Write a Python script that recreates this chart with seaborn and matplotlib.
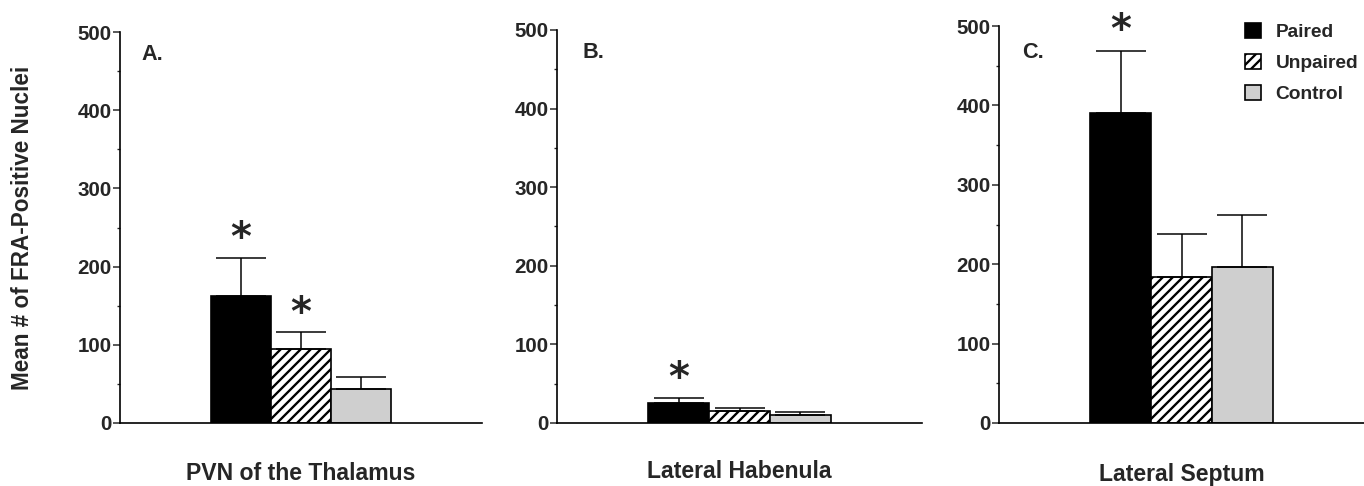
import numpy as np
import pandas as pd
import matplotlib
matplotlib.use("Agg")
import matplotlib.pyplot as plt
from matplotlib.ticker import MultipleLocator
import seaborn as sns

# ---- data ----
regions = ["PVN of the Thalamus", "Lateral Habenula", "Lateral Septum"]
panel_letters = ["A.", "B.", "C."]
groups = ["Paired", "Unpaired", "Control"]
paired_mean = [163, 26, 390]
unpaired_mean = [95, 15, 184]
control_mean = [44, 10, 196]
paired_sem = [48, 6, 79]
unpaired_sem = [21, 4, 54]
control_sem = [15, 3.5, 66]
paired_sig = [True, True, True]
unpaired_sig = [True, False, False]
control_sig = [False, False, False]
y_ticks = [0, 100, 200, 300, 400, 500]
y_label = "Mean # of FRA-Positive Nuclei"

means = {"Paired": paired_mean, "Unpaired": unpaired_mean, "Control": control_mean}
sems = {"Paired": paired_sem, "Unpaired": unpaired_sem, "Control": control_sem}
sigs = {"Paired": paired_sig, "Unpaired": unpaired_sig, "Control": control_sig}

rows = []
for i, r in enumerate(regions):
    for g in groups:
        rows.append({"region": r, "group": g, "value": means[g][i], "sem": sems[g][i], "sig": sigs[g][i]})
df = pd.DataFrame(rows)

# ---- style ----
sns.set_style("ticks")
plt.rcParams["font.family"] = ["Liberation Sans", "DejaVu Sans"]
plt.rcParams["font.weight"] = "bold"
plt.rcParams["hatch.linewidth"] = 1.4
plt.rcParams["hatch.color"] = "black"

DPI = 120
W, H = 1364, 486
fig = plt.figure(figsize=(W / DPI, H / DPI), dpi=DPI)

palette = {"Paired": "black", "Unpaired": "white", "Control": "#cfcfcf"}
hatches = {"Paired": "", "Unpaired": "////", "Control": ""}

# axes rectangles in pixels: left, right, y(0), y(500)
ax_px = [(120, 482, 423, 32), (557, 922, 423, 30), (999, 1364, 423, 26)]
xlabel_y_px = [473, 472, 475]
letter_px = [(141, 54), (583, 53), (1022, 53)]

STAR_FS = 24
axes = []
for i, (l, r, y0, y1) in enumerate(ax_px):
    ax = fig.add_axes([l / W, 1 - y0 / H, (r - l) / W, (y0 - y1) / H])
    axes.append(ax)
    sub = df[df["region"] == regions[i]]
    sns.barplot(data=sub, x="region", y="value", hue="group", hue_order=groups,
                palette=palette, width=1.0, errorbar=None, ax=ax, legend=False,
                edgecolor="black", linewidth=1.0, saturation=1)
    for cont, g in zip(ax.containers, groups):
        for bar in cont:
            bar.set_hatch(hatches[g])
            bar.set_edgecolor("black")
            x = bar.get_x() + bar.get_width() / 2
            m = sub.loc[sub["group"] == g, "value"].iloc[0]
            s = sub.loc[sub["group"] == g, "sem"].iloc[0]
            sg = sub.loc[sub["group"] == g, "sig"].iloc[0]
            ax.errorbar([x], [m], yerr=[[0], [s]], fmt="none", ecolor="black",
                        elinewidth=0.9, capsize=15, capthick=0.9, zorder=1)
            if sg:
                ax.annotate("*", xy=(x, m + s + 39), xytext=(0, -0.57 * STAR_FS),
                            textcoords="offset points", ha="center", va="baseline",
                            fontsize=STAR_FS, fontweight="bold", family="DejaVu Sans",
                            annotation_clip=False)
    ax.set_xlim(-1, 1)
    ax.set_ylim(0, 500)
    ax.set_yticks(y_ticks)
    ax.set_yticklabels([str(t) for t in y_ticks], fontsize=12.3, fontweight="bold")
    ax.yaxis.set_minor_locator(MultipleLocator(50))
    ax.tick_params(axis="y", which="major", length=4, width=0.9, pad=1, direction="out")
    ax.tick_params(axis="y", which="minor", length=2, width=0.8, direction="out")
    ax.tick_params(axis="x", bottom=False, labelbottom=False)
    for sp in ["top", "right"]:
        ax.spines[sp].set_visible(False)
    for sp in ["left", "bottom"]:
        ax.spines[sp].set_linewidth(1.0)
        ax.spines[sp].set_color("black")
    ax.set_xlabel(regions[i], fontsize=13.8, fontweight="bold", va="center")
    ax.xaxis.set_label_coords(0.5, (y0 - xlabel_y_px[i]) / (y0 - y1))
    if i == 0:
        ax.set_ylabel(y_label, fontsize=13.5, fontweight="bold", va="center")
        ax.yaxis.set_label_coords((23 - l) / (r - l), 0.5)
    else:
        ax.set_ylabel("")
    lx, ly = letter_px[i]
    ax.text((lx - l) / (r - l), (y0 - ly) / (y0 - y1), panel_letters[i],
            transform=ax.transAxes, ha="left", va="center", fontsize=13, fontweight="bold")

# legend in panel C
axC = axes[2]
handles = [c[0] for c in axC.containers]
fig.legend(handles=handles, labels=groups, loc="upper left",
           bbox_to_anchor=(1245 / W, 1 - 23 / H), bbox_transform=fig.transFigure,
           frameon=False, handlelength=0.85, handleheight=0.8,
           handletextpad=0.75, labelspacing=0.68, borderpad=0, borderaxespad=0,
           prop={"weight": "bold", "size": 11.5})

fig.savefig("out.png", dpi=DPI)
